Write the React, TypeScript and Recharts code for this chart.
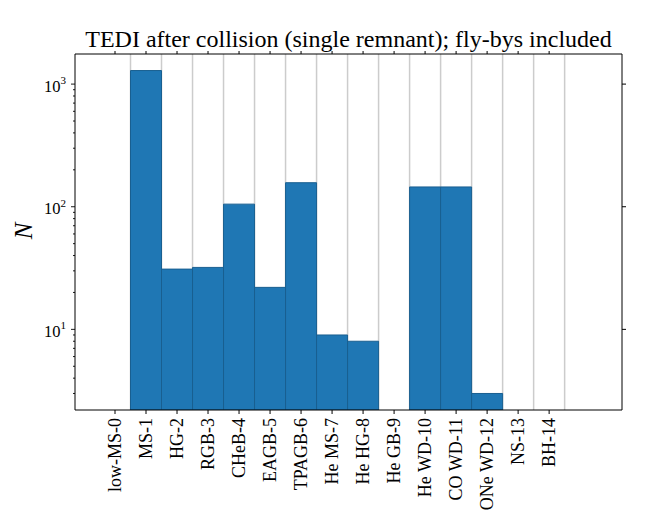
import React from 'react';
import { BarChart, Bar, XAxis, YAxis, CartesianGrid } from 'recharts';

// stellar types (BSE k-types) and counts
const categories = [
  'low-MS-0', 'MS-1', 'HG-2', 'RGB-3', 'CHeB-4', 'EAGB-5', 'TPAGB-6', 'He MS-7',
  'He HG-8', 'He GB-9', 'He WD-10', 'CO WD-11', 'ONe WD-12', 'NS-13', 'BH-14',
];
const counts = [null, 1290, 31, 32, 105, 22, 157, 9, 8, null, 145, 145, 3, null, null];

const majorTicks = [10, 100, 1000];
const minorTicks = [3, 4, 5, 6, 7, 8, 9, 20, 30, 40, 50, 60, 70, 80, 90, 200, 300, 400, 500, 600, 700, 800, 900];
const xDomain = [-1.29, 16.35];
const yDomain = [2.2, 1760];

const SERIF = '"Liberation Serif", "DejaVu Serif", serif';

const data = categories.map((name, i) => ({ idx: i, name, n: counts[i] }));
const xTicks = categories.map((_, i) => i);
const binEdges = categories.map((_, i) => i + 0.5);
const yTicks = [...minorTicks, ...majorTicks].sort((a, b) => a - b);

const XTick = (props: any) => {
  const { x, y, payload } = props;
  return (
    <text
      x={x}
      y={y}
      dy="0.33em"
      transform={`rotate(-90, ${x}, ${y})`}
      textAnchor="end"
      fontFamily={SERIF}
      fontSize={18}
      fill="#000"
    >
      {categories[payload.value]}
    </text>
  );
};

const YTick = (props: any) => {
  const { x, y, payload } = props;
  const v = payload.value;
  const major = majorTicks.includes(v);
  const len = major ? 4 : 2;
  return (
    <g>
      <line x1={x - len} x2={x} y1={y} y2={y} stroke="#000" strokeWidth={0.9} />
      {major && (
        <text x={x - 9} y={y + 7.5} textAnchor="end" fontFamily={SERIF} fontSize={16.5} fill="#000">
          10
          <tspan dy={-7.5} fontSize={11}>
            {Math.round(Math.log10(v))}
          </tspan>
        </text>
      )}
    </g>
  );
};

// tick marks only, no labels (top and right spines)
const BlankTick = () => <g />;

const App: React.FC = () => {
  return (
    <div style={{ position: 'relative', width: 642, height: 503 }}>
      <BarChart
        width={642}
        height={503}
        data={data}
        barCategoryGap={0}
        barGap={0}
        margin={{ top: 45, right: 27, bottom: 3, left: 7 }}
      >
        {/* light grey lines on the bin edges, behind the bars */}
        <CartesianGrid horizontal={false} verticalValues={binEdges} stroke="#cccccc" strokeWidth={1.5} />
        <XAxis
          type="number"
          dataKey="idx"
          domain={xDomain}
          allowDataOverflow
          ticks={xTicks}
          interval={0}
          tickSize={4}
          tickMargin={4}
          tick={<XTick />}
          height={98}
          stroke="#000"
        />
        <XAxis
          xAxisId="top"
          orientation="top"
          type="number"
          dataKey="idx"
          domain={xDomain}
          allowDataOverflow
          ticks={xTicks}
          interval={0}
          tickSize={3}
          tick={<BlankTick />}
          height={1}
          stroke="#000"
        />
        <YAxis
          scale="log"
          domain={yDomain}
          allowDataOverflow
          ticks={yTicks}
          interval={0}
          tickSize={0}
          tickMargin={0}
          tickLine={false}
          tick={<YTick />}
          width={60}
          stroke="#000"
        />
        <YAxis
          yAxisId="right"
          orientation="right"
          scale="log"
          domain={yDomain}
          allowDataOverflow
          ticks={majorTicks}
          interval={0}
          tickSize={4}
          tick={<BlankTick />}
          width={1}
          stroke="#000"
        />
        <Bar dataKey="n" fill="#1f77b4" stroke="#195f90" strokeWidth={1} isAnimationActive={false} />
      </BarChart>
      <svg
        width={642}
        height={503}
        style={{ position: 'absolute', left: 0, top: 0, pointerEvents: 'none' }}
      >
        <text x={340.5} y={39} textAnchor="middle" fontFamily={SERIF} fontSize={24} fill="#000">
          TEDI after collision (single remnant); fly-bys included
        </text>
        <text
          x={24}
          y={223}
          transform="rotate(-90, 24, 223)"
          textAnchor="middle"
          fontFamily={SERIF}
          fontStyle="italic"
          fontSize={25}
          fill="#000"
        >
          N
        </text>
      </svg>
    </div>
  );
};

export default App;
